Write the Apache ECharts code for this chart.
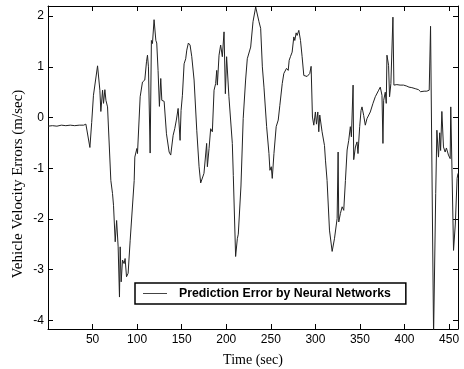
<!DOCTYPE html>
<html>
<head>
<meta charset="utf-8">
<script src="https://cdn.jsdelivr.net/npm/echarts@6/dist/echarts.min.js"></script>
<style>html,body{margin:0;padding:0;background:#fff;}#c{width:464px;height:369px;}</style>
</head>
<body>
<div id="c"></div>
<script>
var seriesName = 'Prediction Error by Neural Networks';
var xTicks = [50, 100, 150, 200, 250, 300, 350, 400, 450];
var yTicks = [-4, -3, -2, -1, 0, 1, 2];
var timeValues = [0,5,10,15,20,25,30,35,40,42.5,44,47,49,51,55.6,58.2,59.3,61.2,62.3,63.8,65,66.8,70.5,72.4,73.5,75.4,77,78.7,80.2,81,82.1,83.6,85.4,86.5,88.1,89.9,92.2,96.7,97.4,99.7,100.4,103.4,106,108.6,110.5,111.6,112.7,114.6,116,117.2,119,121,122,123.5,125,126.5,127.7,130.3,132.9,135.9,137.7,140.4,142.2,144,146,148.2,149.3,150.8,152.7,154.5,155.7,157.5,159.4,161.3,163.9,166.9,169.5,171.3,173.2,175,176.9,178,178.8,180.7,182.5,184.4,186.3,188.1,189.3,190,191.9,193.7,195.6,197.5,199,200.4,203,206.8,207.9,210.5,212.4,213.5,216.5,219,221.7,223.6,225.5,227.4,230,233,234.9,236.7,238.6,240.5,242.3,245.3,247.9,249,250.5,251.6,253.5,256,258.3,260.1,261.6,262.8,264.6,267.6,269.5,270.6,272,273.9,275.8,276.9,278.4,279.5,281.4,283.3,285.1,287,290.7,293.7,295.2,296.7,298.2,300,301.2,302.7,303.8,304.9,307.5,310.2,311.3,313.1,315.8,318.8,321.4,324.4,325.5,326.2,328.1,330,331.8,333.7,335.6,337.4,339.2,340.4,342.3,343,344.9,346.7,347.8,349.7,351.2,352.3,354.2,356,357.9,361.6,364.6,367.2,371,372.8,374.7,375.8,376.6,378.4,379.5,380.3,382.1,383.2,384.7,387,388.1,391.4,395,398.9,402.6,405,408.2,410,412,415.7,418,419.4,422,425,427.7,429.2,432.6,435,436.3,438.1,439.5,440.5,441.9,443.7,445.6,447,449.3,451.2,451.9,455,457,459,460];
var errorValues = [-0.17,-0.16,-0.17,-0.15,-0.16,-0.15,-0.16,-0.15,-0.15,-0.13,-0.15,-0.59,-0.1,0.44,1.02,0.54,0.12,0.54,0.28,0.55,0.34,0.21,-1.24,-1.5,-1.73,-2.45,-2.03,-2.55,-3.54,-2.55,-3.24,-2.81,-2.88,-2.78,-3.14,-3.07,-2.42,-1.24,-0.78,-0.61,-0.71,0.41,0.70,0.74,1.1,1.23,1.0,-0.70,1.52,1.46,1.93,1.52,1.47,0.93,0.22,0.77,0.34,0.32,-0.32,-0.68,-0.74,-0.35,-0.22,-0.05,0.18,-0.45,0.14,0.44,1.06,1.16,1.33,1.47,1.43,1.2,0.74,-0.25,-0.97,-1.29,-1.32,-1.1,-1.07,-0.51,-0.97,-0.61,-0.22,-0.28,0.54,0.67,0.93,0.64,1.23,1.43,1.2,1.69,0.47,1.2,0.41,-0.51,-1.14,-2.74,-2.39,-2.3,-1.35,-0.02,0.74,1.16,1.16,1.39,1.89,2.18,2.15,1.89,1.76,1.0,0.6,-0.18,-0.71,-1.04,-0.97,-1.2,-0.71,-0.18,-0.05,0.24,0.21,0.67,0.87,0.97,0.93,1.13,1.2,1.29,1.59,1.52,1.67,1.62,1.72,1.52,1.2,0.83,0.81,0.87,1.01,0.01,-0.15,0.11,-0.13,0.11,-0.28,0.05,-0.28,-0.55,-0.84,-1.24,-2.22,-2.64,-2.39,-1.99,-0.68,-2.06,-1.89,-1.76,-1.83,-1.24,-0.64,-0.45,-0.18,-0.38,0.64,-0.83,-0.58,-0.48,-0.71,-0.18,0.14,0.21,0.04,-0.15,-0.02,0.11,0.28,0.41,0.54,0.60,0.44,-0.51,0.34,0.5,0.28,1.23,1.03,0.41,0.67,1.98,0.64,0.65,0.64,0.64,0.62,0.6,0.59,0.56,0.57,0.55,0.51,0.54,0.52,0.52,0.54,1.8,-4.3,-1.5,-0.25,-0.78,-0.3,-0.65,0.12,-0.58,-0.68,-0.6,-0.74,-0.81,0.21,-2.62,-2.1,-1.2,-1.1];

var data = timeValues.map(function (t, i) { return [t, errorValues[i]]; });
var chart = echarts.init(document.getElementById('c'), null, {renderer: 'canvas'});
var axisLineStyle = {color: '#000', width: 1};
var labelFont = {color: '#000', fontFamily: 'Liberation Sans, Arial, sans-serif', fontSize: 12};
function xAxisDef(pos, showLabel) {
  return {
    type: 'value', position: pos, min: 0, max: 460,
    axisLine: {show: true, onZero: false, lineStyle: axisLineStyle},
    axisTick: {show: true, inside: true, length: 5, customValues: xTicks, lineStyle: axisLineStyle},
    axisLabel: Object.assign({show: showLabel, margin: 5, customValues: xTicks}, labelFont),
    splitLine: {show: false}
  };
}
function yAxisDef(pos, showLabel) {
  return {
    type: 'value', position: pos, min: -4.17, max: 2.2,
    axisLine: {show: true, onZero: false, lineStyle: axisLineStyle},
    axisTick: {show: true, inside: true, length: 5, customValues: yTicks, lineStyle: axisLineStyle},
    axisLabel: Object.assign({show: showLabel, margin: 4, customValues: yTicks}, labelFont),
    splitLine: {show: false}
  };
}
chart.setOption({
  animation: false,
  backgroundColor: '#fff',
  grid: {left: 48, right: 6, top: 6, bottom: 40, containLabel: false},
  xAxis: [xAxisDef('bottom', true), xAxisDef('top', false)],
  yAxis: [yAxisDef('left', true), yAxisDef('right', false)],
  legend: {
    data: [{name: seriesName, icon: 'rect'}],
    left: 135, top: 283,
    backgroundColor: '#fff',
    borderColor: '#000', borderWidth: 1.5, borderRadius: 0,
    padding: [3, 15, 3, 8],
    itemWidth: 24, itemHeight: 1,
    itemStyle: {color: '#444'},
    textStyle: {color: '#000', fontFamily: 'Liberation Sans, Arial, sans-serif', fontWeight: 'bold', fontSize: 12.3, lineHeight: 15, padding: [0, 0, 0, 7]}
  },
  graphic: [
    {type: 'text', x: 18, y: 184, rotation: Math.PI / 2,
     style: {text: 'Vehicle Velocity Errors (m/sec)', fill: '#000', font: '15px "Liberation Serif", "Times New Roman", serif', align: 'center', verticalAlign: 'middle'}},
    {type: 'text', x: 253, y: 360,
     style: {text: 'Time (sec)', fill: '#000', font: '14px "Liberation Serif", "Times New Roman", serif', align: 'center', verticalAlign: 'middle'}}
  ],
  series: [{
    name: seriesName,
    type: 'line',
    xAxisIndex: 0, yAxisIndex: 0,
    data: data,
    symbol: 'none',
    clip: true,
    lineStyle: {color: '#222', width: 1},
    itemStyle: {color: '#222'}
  }]
});
</script>
</body>
</html>
